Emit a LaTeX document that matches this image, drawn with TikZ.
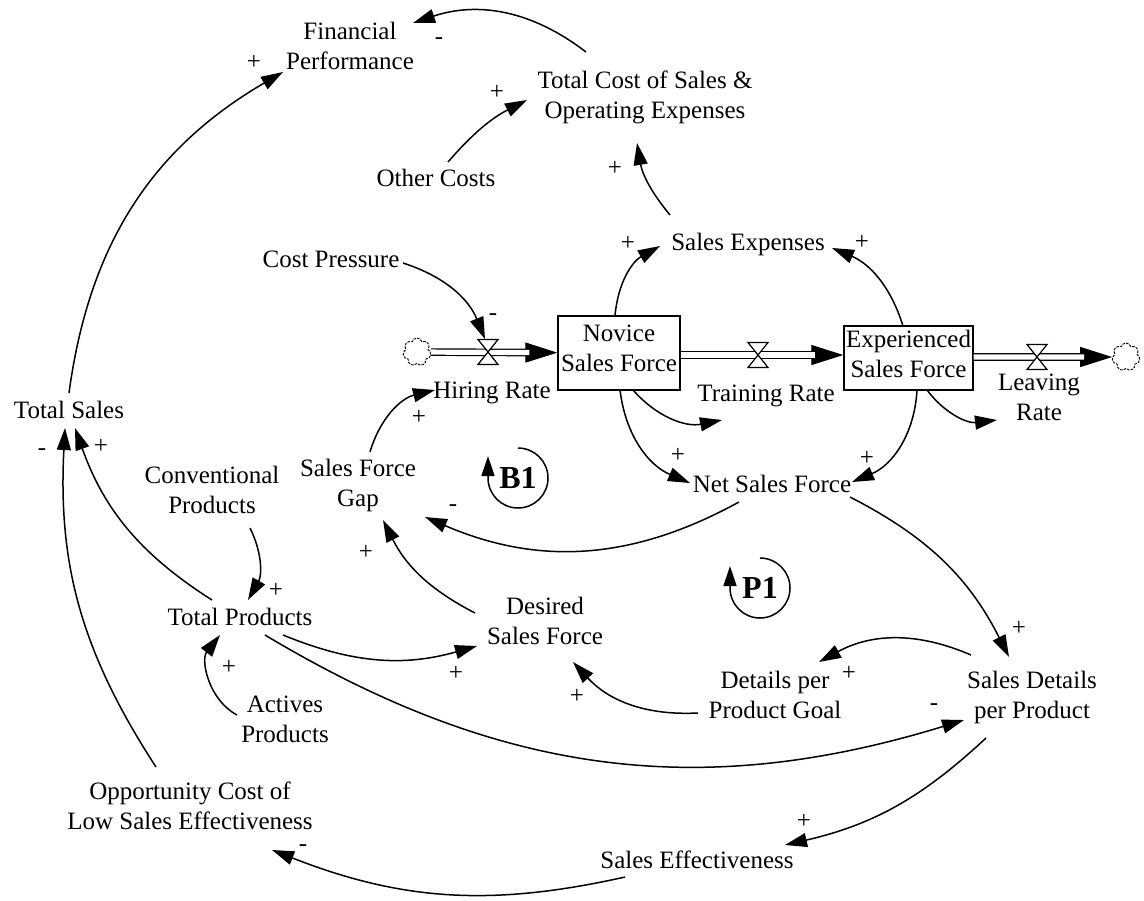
\documentclass[tikz,border=0pt]{standalone}
\usepackage{fontspec}
\setmainfont{Liberation Serif}
\usetikzlibrary{arrows.meta,shapes.symbols}
\begin{document}
\begin{tikzpicture}[x=0.5pt,y=-0.5pt,
  txt/.style={align=center, inner sep=1pt, font=\fontsize{12.5}{15}\selectfont,
    execute at begin node=\strut, execute at end node=\strut},
  var/.style={txt, yshift=-1pt},
  stock/.style={txt, draw, line width=0.7pt, inner xsep=1pt},
  sign/.style={inner sep=0pt, font=\fontsize{12.5}{15}\selectfont},
  link/.style={-{Triangle[length=11pt,width=7pt]}, line width=0.75pt},
  flowtip/.style={-{Triangle[length=16pt,width=10pt]}, line width=0.6pt},
  flowpipe/.style={double=white, double distance=2.6pt, line width=0.6pt, shorten >=14pt},
  valve/.style={minimum width=10pt, minimum height=12.5pt, inner sep=0pt},
  valveline/.style={line width=0.6pt, fill=white},
  sink/.style={cloud, cloud puffs=7, cloud puff arc=150, aspect=1, draw, dash pattern=on 1.3pt off 0.6pt,
    line width=0.45pt, minimum width=14pt, minimum height=14pt, inner sep=0pt},
  loopname/.style={font=\fontsize{16}{18}\selectfont\bfseries, inner sep=0pt},
  loopline/.style={line width=0.75pt, -{Triangle[length=10pt,width=6.5pt]}},
]
\fill[white] (0,0) rectangle (1144,900);
\useasboundingbox (0,0) rectangle (1144,900);

% variables
\node[var] (fin) at (350,48) {Financial\\Performance};
\node[var] (tcost) at (645,97) {Total Cost of Sales \&\\Operating Expenses};
\node[var] (other) at (436,178) {Other Costs};
\node[var] (sexp) at (748,242) {Sales Expenses};
\node[var] (costp) at (331,259) {Cost Pressure};
\node[stock, minimum width=61pt, minimum height=37pt] (novice) at (619,353) {Novice\\Sales Force};
\node[stock, minimum width=64.5pt, minimum height=32pt] (exper) at (908.5,358) {Experienced\\Sales Force};
\node[var] (hiring) at (492,390) {Hiring Rate};
\node[var] (training) at (766,393) {Training Rate};
\node[var] (leaving) at (1039,400) {Leaving\\Rate};
\node[var] (tsales) at (69,410) {Total Sales};
\node[var] (conv) at (212,492) {Conventional\\Products};
\node[var] (gap) at (358,485) {Sales Force\\Gap};
\node[var] (net) at (772,484) {Net Sales Force};
\node[var] (desired) at (545,623) {Desired\\Sales Force};
\node[var] (tprod) at (240,617) {Total Products};
\node[var] (goal) at (775,697) {Details per\\Product Goal};
\node[var] (sdet) at (1032,697) {Sales Details\\per Product};
\node[var] (actives) at (285,722) {Actives\\Products};
\node[var] (opp) at (190,808) {Opportunity Cost of\\Low Sales Effectiveness};
\node[var] (seff) at (697,860) {Sales Effectiveness};

% flow parts
\node[sink] (cloud1) at (417,352) {};
\node[sink] (cloud2) at (1126,357) {};
\node[valve] (v1) at (488,352) {};
\node[valve] (v2) at (758,355) {};
\node[valve] (v3) at (1037,357) {};

\draw[flowtip] (cloud1) -- (novice);
\draw[flowpipe] (cloud1) -- (novice);
\draw[flowtip] (novice.east |- v2) -- (exper.west |- v2);
\draw[flowpipe] (novice.east |- v2) -- (exper.west |- v2);
\draw[flowtip] (exper.east |- v3) -- (cloud2);
\draw[flowpipe] (exper.east |- v3) -- (cloud2);
\foreach \v in {v1,v2,v3}
  \draw[valveline] ([shift={(-5pt,6.25pt)}]\v.center) -- ([shift={(5pt,6.25pt)}]\v.center)
    -- ([shift={(-5pt,-6.25pt)}]\v.center) -- ([shift={(5pt,-6.25pt)}]\v.center) -- cycle;

% causal links
\draw[link] ([shift={(-59,-47)}]tcost.center) to[bend right=28] ([shift={(63,-27)}]fin.center);
\draw[link] ([shift={(0,-19)}]tsales.center) to[bend left=26] ([shift={(-67,22)}]fin.center);
\draw[link] ([shift={(12,-18)}]other.center) to[bend left=11] ([shift={(-118,1)}]tcost.center);
\draw[link] ([shift={(-78,-29)}]sexp.center) to[bend left=15] ([shift={(-8,44)}]tcost.center);
\draw[link] ([shift={(-4,-37)}]novice.center) to[bend left=28] ([shift={(-88,2)}]sexp.center);
\draw[link] ([shift={(-5.5,-32)}]exper.center) to[bend right=25] ([shift={(84,4)}]sexp.center);
\draw[link] ([shift={(72,2)}]costp.center) to[bend left=25] ([shift={(-3,0)}]v1.north);
\draw[link] ([shift={(12,-35)}]gap.center) to[bend left=30] ([shift={(-57,-2)}]hiring.center);
\draw[link] ([shift={(14,37)}]novice.center) to[bend right=30] ([shift={(-44,25)}]training.center);
\draw[link] ([shift={(18.5,32)}]exper.center) to[bend right=30] ([shift={(-42,18)}]leaving.center);
\draw[link] ([shift={(1,37)}]novice.center) to[bend right=30] ([shift={(-82,-3)}]net.center);
\draw[link] ([shift={(8.5,32)}]exper.center) to[bend left=32] ([shift={(80,-4)}]net.center);
\draw[link] ([shift={(-33,16)}]net.center) to[bend left=26] ([shift={(67,30)}]gap.center);
\draw[link] ([shift={(-70,-12)}]desired.center) to[bend left=18] ([shift={(25,33)}]gap.center);
\draw[link] ([shift={(38,34)}]conv.center) to[bend left=28] ([shift={(8,-19)}]tprod.center);
\draw[link] ([shift={(-28,-19)}]tprod.center) to[bend left=19] ([shift={(6,16)}]tsales.center);
\draw[link] ([shift={(-34,-43)}]opp.center) to[bend left=18] ([shift={(-4,16)}]tsales.center);
\draw[link] ([shift={(-48,-9)}]actives.center) to[bend left=50] ([shift={(-20,16)}]tprod.center);
\draw[link] ([shift={(43,16)}]tprod.center) to[bend right=19] ([shift={(-68,21)}]desired.center);
\draw[link] ([shift={(25,16)}]tprod.center) to[bend right=24] ([shift={(-68,21)}]sdet.center);
\draw[link] ([shift={(-77,14)}]goal.center) to[bend left=25] ([shift={(28,37)}]desired.center);
\draw[link] ([shift={(-61,-44)}]sdet.center) to[bend right=26] ([shift={(44,-37)}]goal.center);
\draw[link] ([shift={(78,11)}]net.center) to[bend left=18] ([shift={(-23,-42)}]sdet.center);
\draw[link] ([shift={(-46,39)}]sdet.center) to[bend left=15] ([shift={(88,-17)}]seff.center);
\draw[link] ([shift={(-72,15)}]seff.center) to[bend left=17] ([shift={(82,40)}]opp.center);

% polarity signs
\node[sign] (s1) at (439,41) {-};
\node[sign] (s2) at (254,62) {+};
\node[sign] (s3) at (497,92) {+};
\node[sign] (s4) at (615,168) {+};
\node[sign] (s5) at (628,243) {+};
\node[sign] (s6) at (862,242) {+};
\node[sign] (s7) at (493,317) {-};
\node[sign] (s8) at (419,417) {+};
\node[sign] (s9) at (678,455) {+};
\node[sign] (s10) at (867,458) {+};
\node[sign] (s11) at (453,508) {-};
\node[sign] (s12) at (366,552) {+};
\node[sign] (s13) at (276,590) {+};
\node[sign] (s14) at (42,452) {-};
\node[sign] (s15) at (101,446) {+};
\node[sign] (s16) at (229,667) {+};
\node[sign] (s17) at (456,673) {+};
\node[sign] (s18) at (577,696) {+};
\node[sign] (s19) at (934,707) {-};
\node[sign] (s20) at (849,673) {+};
\node[sign] (s21) at (1019,628) {+};
\node[sign] (s22) at (804,821) {+};
\node[sign] (s23) at (303,848) {-};

% loop identifiers
\node[loopname] (b1) at (518,478) {B1};
\draw[loopline] ([shift={(90:15pt)}]b1.center) arc[start angle=90, end angle=-180, radius=15pt] -- ++(0pt,11pt);
\node[loopname] (p1) at (760,588) {P1};
\draw[loopline] ([shift={(90:15pt)}]p1.center) arc[start angle=90, end angle=-180, radius=15pt] -- ++(0pt,11pt);
\end{tikzpicture}
\end{document}
